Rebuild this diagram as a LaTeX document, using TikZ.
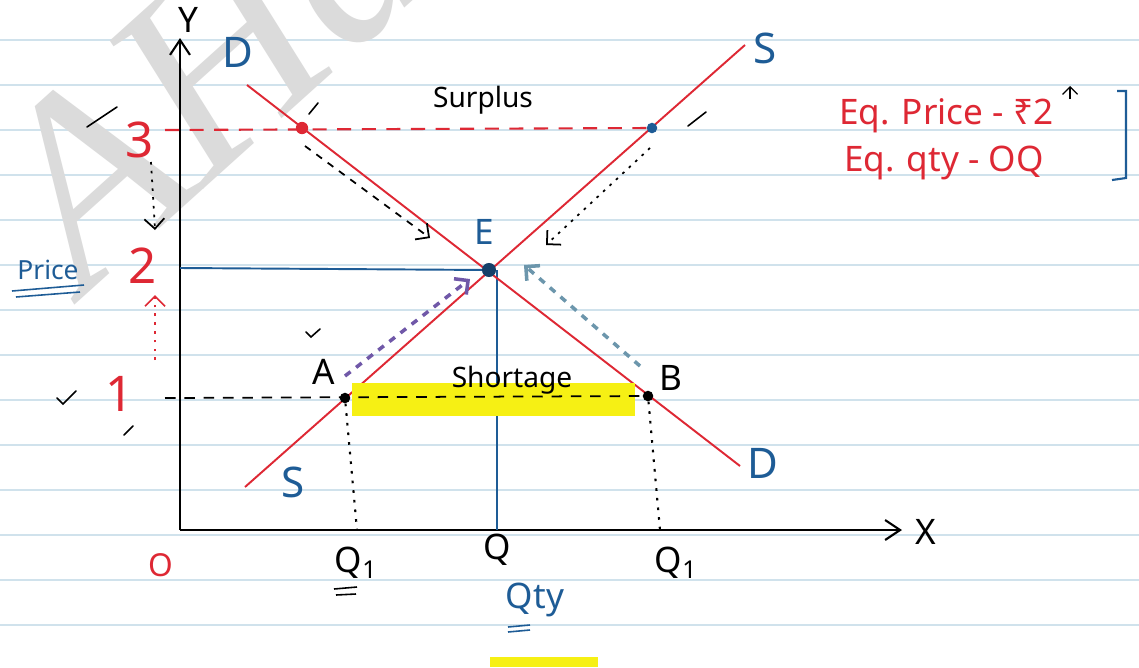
\documentclass[tikz,border=0pt]{standalone}
\usepackage{fontspec}
\setmainfont{Noto Sans}
\newfontfamily\wmfont{Liberation Serif}
\usetikzlibrary{positioning,arrows.meta,calc}
\definecolor{penred}{RGB}{222,40,52}
\definecolor{penblue}{RGB}{30,92,150}
\definecolor{rulecol}{RGB}{208,226,236}
\definecolor{marker}{RGB}{246,240,20}
\definecolor{violetpen}{RGB}{112,88,168}
\definecolor{tealpen}{RGB}{108,150,172}
\tikzset{
  ruled/.style={draw=rulecol,line width=0.8pt},
  axis/.style={draw=black,line width=1.2pt,-{Straight Barb[length=3mm,width=4mm]}},
  curve/.style={draw=penred,line width=1.1pt},
  guide/.style={draw=penblue,line width=1.1pt},
  reddash/.style={draw=penred,line width=1.2pt,dash pattern=on 8pt off 6pt},
  blkdash/.style={draw=black,line width=1pt,dash pattern=on 6pt off 5pt},
  dotdrop/.style={draw=black,line width=1.2pt,dash pattern=on 1.5pt off 4pt},
  nudge/.style={-{Straight Barb[length=2mm]},line width=1pt,dash pattern=on 4pt off 4pt},
  pushup/.style={-{Straight Barb[length=2mm]},line width=2pt,dash pattern=on 4pt off 4pt},
  dot/.style={circle,fill,inner sep=0pt,minimum size=7pt},
  num/.style={text=penred,font=\fontsize{28}{30}\selectfont},
  tag/.style={text=black,font=\fontsize{20}{22}\selectfont},
  bluetag/.style={text=penblue,font=\fontsize{24}{26}\selectfont},
  word/.style={text=black,font=\fontsize{16}{18}\selectfont},
  eqtxt/.style={text=penred,anchor=west,font=\fontsize{20}{22}\selectfont},
  tick/.style={draw=black,line width=0.9pt,line cap=round},
  wmark/.style={text=gray!28,rotate=42,font=\wmfont\itshape\fontsize{150}{150}\selectfont},
}

\begin{document}
\begin{tikzpicture}[x=0.02cm,y=-0.02cm]
  \useasboundingbox (0,0) rectangle (1139,667);
  % --- ruled page ---
  \fill[white] (0,0) rectangle (1139,667);
  \foreach \k in {0,...,13}{\draw[ruled] (0,40+45*\k) -- (1139,40+45*\k);}
  \node[wmark] (wm) at (225,55) {'AHar};
  % --- axes ---
  \coordinate (O) at (180,530);
  \coordinate (Ytip) at (180,38);
  \coordinate (Xtip) at (902,530);
  \draw[axis] (O) -- (Ytip);
  \draw[axis] (O) -- (Xtip);
  \node[tag] (ylab) at (188,20) {Y};
  \node[tag] (xlab) at (926,532) {X};
  \node[num,font=\fontsize{18}{20}\selectfont] (olab) at (161,565) {O};
  % --- demand and supply ---
  \coordinate (Dtop) at (247,85);
  \coordinate (Dbot) at (740,466);
  \coordinate (Sbot) at (245,487);
  \coordinate (Stop) at (745,45);
  \coordinate (E) at (489,270);
  \coordinate (Ebase) at (497,270);
  \coordinate (q) at (497,530);
  \coordinate (p2) at (180,268);
  \draw[guide] (p2) -- (E);
  \draw[guide] (Ebase) -- (q);
  \draw[curve] (Dtop) -- (Dbot);
  \draw[curve] (Sbot) -- (Stop);
  \node[bluetag] (dtl) at (238,52) {D};
  \node[bluetag] (dbl) at (763,463) {D};
  \node[bluetag] (stl) at (765,48) {S};
  \node[bluetag] (sbl) at (293,482) {S};
  \node[bluetag,font=\fontsize{20}{22}\selectfont] (elab) at (484,232) {E};
  \node[dot,fill=penblue!70!black,minimum size=8pt] (Edot) at (E) {};
  % --- surplus at price 3 ---
  \coordinate (p3) at (165,130);
  \node[dot,fill=penred] (sD) at (302,128) {};
  \node[dot,fill=penblue,minimum size=6pt] (sS) at (652,128) {};
  \draw[reddash] (p3) -- (sS);
  \node[word] (surplus) at (483,100) {Surplus};
  \coordinate (sDa) at (305,146);
  \coordinate (sDb) at (430,238);
  \coordinate (sSa) at (650,148);
  \coordinate (sSb) at (546,245);
  \draw[nudge] (sDa) -- (sDb);
  \draw[nudge,dash pattern=on 1.5pt off 3.5pt] (sSa) -- (sSb);
  % --- shortage at price 1 ---
  \fill[marker] (352,383) rectangle (635,416);
  \coordinate (p1) at (165,398);
  \node[dot,fill=black,minimum size=6pt] (A) at (345,398) {};
  \node[dot,fill=black,minimum size=6pt] (B) at (648,396) {};
  \draw[blkdash] (p1) -- (B);
  \node[word] (shortage) at (512,380) {Shortage};
  \node[tag] (alab) at (324,372) {A};
  \node[tag] (blab) at (671,378) {B};
  \coordinate (Aa) at (345,376);
  \coordinate (Ab) at (470,279);
  \coordinate (Ba) at (640,366);
  \coordinate (Bb) at (524,265);
  \draw[pushup,violetpen] (Aa) -- (Ab);
  \draw[pushup,tealpen] (Ba) -- (Bb);
  % --- quantities ---
  \coordinate (qa) at (357,530);
  \coordinate (qb) at (660,530);
  \draw[dotdrop] (A) -- (qa);
  \draw[dotdrop] (B) -- (qb);
  \node[tag] (q1l) at (356,563) {Q\textsubscript{1}};
  \node[tag] (qlab) at (497,550) {Q};
  \node[tag] (q1r) at (676,563) {Q\textsubscript{1}};
  \draw[black,line width=0.9pt] (334,589) -- (357,587) (336,595) -- (356,594);
  \node[bluetag,font=\fontsize{20}{22}\selectfont] (qty) at (535,600) {Qty};
  \draw[penblue,line width=0.9pt] (508,627) -- (530,625) (508,632) -- (530,630);
  % --- price axis marks ---
  \node[num] (n3) at (140,140) {3};
  \node[num] (n2) at (143,266) {2};
  \node[num] (n1) at (120,394) {1};
  \node[bluetag,font=\fontsize{15}{17}\selectfont] (price) at (48,270) {Price};
  \draw[penblue,line width=0.9pt] (12,291) -- (84,285) (16,297) -- (80,292);
  \coordinate (d3) at (151,162);
  \coordinate (d2) at (155,230);
  \coordinate (u1) at (155,360);
  \coordinate (u2) at (155,295);
  \draw[nudge,dash pattern=on 1.5pt off 3.5pt] (d3) -- (d2);
  \draw[nudge,penred,dash pattern=on 1.5pt off 3.5pt] (u1) -- (u2);
  % --- equilibrium note ---
  \node[eqtxt] (eqp) at (833,116) {Eq. Price - ₹2};
  \node[eqtxt] (eqq) at (838,163) {Eq. qty - OQ};
  \draw[penblue,line width=1.2pt] (1117,91) -- (1126,91) -- (1126,178) -- (1112,180);
  \draw[-{Straight Barb[length=1.5mm]},line width=0.7pt] (1070,99) -- (1070,86);
  % --- stray ticks ---
  \draw[tick] (87,127) -- (117,107);
  \draw[tick] (309,114) -- (318,103);
  \draw[tick] (688,126) -- (706,112);
  \draw[tick] (57,398) -- (63,404) -- (76,391);
  \draw[tick] (124,435) -- (133,426);
  \draw[tick] (306,332) -- (311,337) -- (320,329);
  \fill[marker] (490,657) rectangle (598,667);
\end{tikzpicture}
\end{document}
